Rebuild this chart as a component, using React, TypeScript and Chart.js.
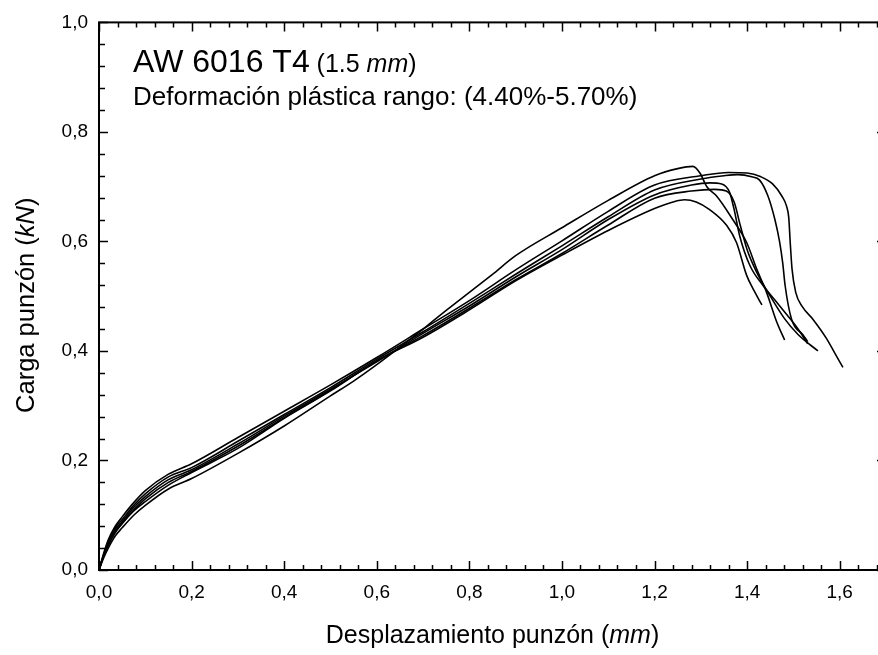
import React, { useEffect, useRef } from "react";
import { Chart, registerables } from "chart.js";

Chart.register(...registerables);

const FONT = "'Liberation Sans', Arial, Helvetica, sans-serif";

// Tick values / labels
const xTickValues = [0, 0.2, 0.4, 0.6, 0.8, 1.0, 1.2, 1.4, 1.6];
const yTickValues = [0, 0.2, 0.4, 0.6, 0.8, 1.0];
const X_MIN = 0;
const X_MAX = 1.7;
const Y_MIN = 0;
const Y_MAX = 1.0;
const MINOR_STEP = 0.04;

// Texts
const titleMain = "AW 6016 T4";
const titleThickness = ["(1.5 ", "mm", ")"];
const subtitle = "Deformación plástica rango: (4.40%-5.70%)";
const xTitle = ["Desplazamiento punzón (", "mm", ")"];
const yTitle = ["Carga punzón (", "kN", ")"];

// Curves (displacement mm, load kN)
const curveAx = [0, 0.01, 0.02, 0.035, 0.05, 0.075, 0.1, 0.15, 0.2, 0.3, 0.4, 0.5, 0.6, 0.7, 0.8, 0.9, 1.0, 1.1, 1.2, 1.24, 1.265, 1.29, 1.319, 1.356, 1.377, 1.399, 1.415, 1.432];
const curveAy = [0, 0.025, 0.045, 0.068, 0.085, 0.108, 0.125, 0.155, 0.178, 0.222, 0.277, 0.327, 0.382, 0.425, 0.475, 0.528, 0.575, 0.62, 0.66, 0.672, 0.676, 0.672, 0.658, 0.629, 0.598, 0.538, 0.51, 0.484];

const curveBx = [0, 0.01, 0.02, 0.035, 0.05, 0.075, 0.1, 0.15, 0.2, 0.3, 0.4, 0.5, 0.55, 0.6, 0.65, 0.7, 0.75, 0.8, 0.85, 0.9, 1.0, 1.1, 1.2, 1.25, 1.283, 1.298, 1.313, 1.334, 1.369, 1.399, 1.421, 1.442, 1.464, 1.481];
const curveBy = [0, 0.022, 0.04, 0.062, 0.077, 0.1, 0.118, 0.148, 0.167, 0.213, 0.263, 0.318, 0.345, 0.375, 0.407, 0.44, 0.474, 0.507, 0.54, 0.574, 0.625, 0.675, 0.72, 0.733, 0.737, 0.725, 0.7, 0.683, 0.64, 0.598, 0.549, 0.507, 0.453, 0.42];

const curveCx = [0, 0.01, 0.02, 0.035, 0.05, 0.075, 0.1, 0.15, 0.2, 0.3, 0.4, 0.5, 0.6, 0.7, 0.8, 0.9, 1.0, 1.1, 1.2, 1.28, 1.32, 1.345, 1.362, 1.372, 1.384, 1.406, 1.434, 1.46, 1.486, 1.51, 1.531];
const curveCy = [0, 0.027, 0.05, 0.074, 0.088, 0.114, 0.134, 0.165, 0.183, 0.23, 0.281, 0.33, 0.38, 0.432, 0.482, 0.535, 0.585, 0.64, 0.685, 0.703, 0.707, 0.705, 0.69, 0.658, 0.61, 0.556, 0.52, 0.493, 0.466, 0.44, 0.413];

const curveDx = [0, 0.01, 0.02, 0.035, 0.05, 0.075, 0.1, 0.15, 0.2, 0.3, 0.4, 0.5, 0.6, 0.7, 0.8, 0.9, 1.0, 1.1, 1.2, 1.28, 1.33, 1.355, 1.372, 1.385, 1.4, 1.42, 1.45, 1.48, 1.51, 1.553];
const curveDy = [0, 0.026, 0.047, 0.071, 0.085, 0.11, 0.13, 0.16, 0.18, 0.226, 0.278, 0.328, 0.382, 0.428, 0.478, 0.53, 0.578, 0.63, 0.679, 0.692, 0.695, 0.692, 0.672, 0.63, 0.585, 0.545, 0.5, 0.46, 0.43, 0.4];

const curveEx = [0, 0.01, 0.02, 0.035, 0.05, 0.075, 0.1, 0.15, 0.2, 0.3, 0.4, 0.5, 0.6, 0.7, 0.8, 0.9, 1.0, 1.1, 1.2, 1.3, 1.36, 1.4, 1.43, 1.455, 1.475, 1.485, 1.49, 1.493, 1.497, 1.505, 1.52, 1.542, 1.572, 1.59, 1.607];
const curveEy = [0, 0.03, 0.055, 0.08, 0.097, 0.123, 0.145, 0.175, 0.194, 0.242, 0.29, 0.338, 0.388, 0.44, 0.492, 0.548, 0.601, 0.655, 0.703, 0.72, 0.726, 0.725, 0.718, 0.705, 0.683, 0.665, 0.643, 0.6, 0.55, 0.507, 0.48, 0.458, 0.422, 0.395, 0.37];

const curveFx = [0, 0.01, 0.02, 0.035, 0.05, 0.075, 0.1, 0.15, 0.2, 0.3, 0.4, 0.5, 0.6, 0.7, 0.8, 0.9, 1.0, 1.1, 1.2, 1.3, 1.35, 1.38, 1.41, 1.427, 1.445, 1.46, 1.47, 1.477, 1.482, 1.496, 1.52, 1.531];
const curveFy = [0, 0.028, 0.052, 0.077, 0.092, 0.118, 0.139, 0.17, 0.187, 0.235, 0.284, 0.333, 0.385, 0.435, 0.487, 0.54, 0.592, 0.645, 0.694, 0.714, 0.72, 0.722, 0.718, 0.712, 0.683, 0.64, 0.6, 0.56, 0.52, 0.458, 0.43, 0.417];

const curves = [
  [curveAx, curveAy],
  [curveBx, curveBy],
  [curveCx, curveCy],
  [curveDx, curveDy],
  [curveEx, curveEy],
  [curveFx, curveFy],
];

const fmt = (v: number) => v.toFixed(1).replace(".", ",");

function drawPieces(ctx: CanvasRenderingContext2D, pieces: string[], size: number, x: number, y: number, center: boolean) {
  const fonts = pieces.map((_, i) => (i === 1 ? `italic ${size}px ${FONT}` : `${size}px ${FONT}`));
  const widths = pieces.map((p, i) => {
    ctx.font = fonts[i];
    return ctx.measureText(p).width;
  });
  const total = widths.reduce((a, b) => a + b, 0);
  let cx = center ? x - total / 2 : x;
  pieces.forEach((p, i) => {
    ctx.font = fonts[i];
    ctx.fillText(p, cx, y);
    cx += widths[i];
  });
  return total;
}

const framePlugin = {
  id: "frameTicks",
  afterDraw(chart: any) {
    const { ctx, chartArea, scales } = chart;
    const { left, right, top, bottom } = chartArea;
    const xs = scales.x;
    const ys = scales.y;
    ctx.save();
    ctx.strokeStyle = "#000";
    ctx.lineWidth = 2;
    ctx.strokeRect(left, top, right - left, bottom - top);
    ctx.lineWidth = 1.5;
    const nx = Math.round((X_MAX - X_MIN) / MINOR_STEP);
    for (let i = 0; i <= nx; i++) {
      const v = X_MIN + i * MINOR_STEP;
      if (v > X_MAX + 1e-9) break;
      const px = Math.round(xs.getPixelForValue(v)) + 0.5;
      const len = i % 5 === 0 ? 9 : 5;
      ctx.beginPath();
      ctx.moveTo(px, bottom);
      ctx.lineTo(px, bottom - len);
      ctx.moveTo(px, top);
      ctx.lineTo(px, top + len);
      ctx.stroke();
    }
    const ny = Math.round((Y_MAX - Y_MIN) / MINOR_STEP);
    for (let i = 0; i <= ny; i++) {
      const v = Y_MIN + i * MINOR_STEP;
      const py = Math.round(ys.getPixelForValue(v)) + 0.5;
      const len = i % 5 === 0 ? 9 : 6;
      ctx.beginPath();
      ctx.moveTo(left, py);
      ctx.lineTo(left + len, py);
      ctx.moveTo(right, py);
      ctx.lineTo(right - len, py);
      ctx.stroke();
    }
    // Texts
    ctx.fillStyle = "#000";
    ctx.textBaseline = "alphabetic";
    ctx.textAlign = "left";
    ctx.font = `32px ${FONT}`;
    ctx.fillText(titleMain, 133, 72);
    const w = ctx.measureText(titleMain + " ").width;
    drawPieces(ctx, titleThickness, 25, 133 + w - 2, 72, false);
    ctx.font = `26px ${FONT}`;
    ctx.fillText(subtitle, 133, 105);
    // x title
    drawPieces(ctx, xTitle, 25, (left + right) / 2, 643, true);
    // y title
    ctx.save();
    ctx.translate(34, (top + bottom) / 2 + 9);
    ctx.rotate(-Math.PI / 2);
    drawPieces(ctx, yTitle, 25.5, 0, 0, true);
    ctx.restore();
    ctx.restore();
  },
};

export default function App() {
  const ref = useRef<HTMLCanvasElement | null>(null);
  useEffect(() => {
    if (!ref.current) return;
    const chart = new Chart(ref.current, {
      type: "line",
      data: {
        datasets: curves.map(([xs, ys]) => ({
          data: xs.map((x, i) => ({ x, y: ys[i] })),
          borderColor: "#000",
          borderWidth: 1.6,
          pointRadius: 0,
          fill: false,
          cubicInterpolationMode: "monotone" as const,
        })),
      },
      options: {
        animation: false,
        responsive: false,
        devicePixelRatio: 1,
        layout: { padding: { top: 18, right: 4, left: 0, bottom: 0 } },
        plugins: { legend: { display: false }, tooltip: { enabled: false }, title: { display: false } },
        scales: {
          x: {
            type: "linear",
            min: X_MIN,
            max: X_MAX,
            grid: { display: false, drawTicks: false },
            border: { display: false },
            afterBuildTicks: (s: any) => {
              s.ticks = xTickValues.map((v) => ({ value: v }));
            },
            afterFit: (s: any) => {
              s.height = 85;
            },
            ticks: {
              autoSkip: false,
              maxRotation: 0,
              padding: 11,
              color: "#000",
              font: { family: FONT, size: 19 },
              callback: (v: any) => fmt(Number(v)),
            },
          },
          y: {
            type: "linear",
            min: Y_MIN,
            max: Y_MAX,
            grid: { display: false, drawTicks: false },
            border: { display: false },
            afterBuildTicks: (s: any) => {
              s.ticks = yTickValues.map((v) => ({ value: v }));
            },
            afterFit: (s: any) => {
              s.width = 99;
            },
            ticks: {
              autoSkip: false,
              padding: 11,
              color: "#000",
              font: { family: FONT, size: 19 },
              callback: (v: any) => fmt(Number(v)),
            },
          },
        },
      },
      plugins: [framePlugin],
    });
    return () => chart.destroy();
  }, []);
  return (
    <div style={{ position: "fixed", left: 0, top: 0, width: 890, height: 655, background: "#fff" }}>
      <canvas ref={ref} width={890} height={655} style={{ display: "block" }} />
    </div>
  );
}
